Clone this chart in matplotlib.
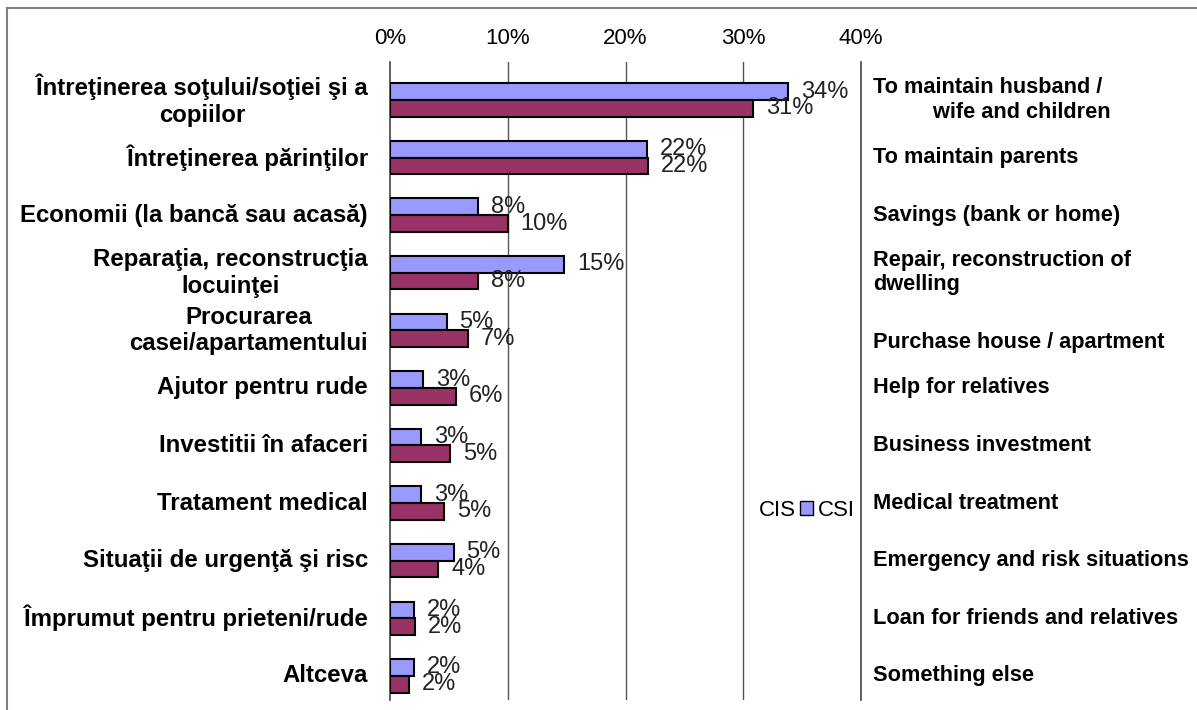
import matplotlib
matplotlib.use('Agg')
import matplotlib.pyplot as plt
from matplotlib.patches import Patch
from matplotlib.lines import Line2D
import matplotlib.transforms as mtransforms

plt.rcParams['font.family'] = ['Liberation Sans', 'DejaVu Sans']

# Data
labels_ro = ['Întreţinerea soţului/soţiei şi a\ncopiilor',
             'Întreţinerea părinţilor',
             'Economii (la bancă sau acasă)',
             'Reparaţia, reconstrucţia\nlocuinţei',
             'Procurarea\ncasei/apartamentului',
             'Ajutor pentru rude',
             'Investitii în afaceri',
             'Tratament medical',
             'Situaţii de urgenţă şi risc',
             'Împrumut pentru prieteni/rude',
             'Altceva']
labels_en = ['To maintain husband /\n          wife and children',
             'To maintain parents',
             'Savings (bank or home)',
             'Repair, reconstruction of\ndwelling',
             ' \nPurchase house / apartment',
             'Help for relatives',
             'Business investment',
             'Medical treatment',
             'Emergency and risk situations',
             'Loan for friends and relatives',
             'Something else']
csi = [33.8, 21.8, 7.5, 14.8, 4.8, 2.8, 2.6, 2.6, 5.4, 2.0, 2.0]
cis = [30.8, 21.9, 10.0, 7.5, 6.6, 5.6, 5.1, 4.6, 4.1, 2.1, 1.6]
blue = '#9999FF'
maroon = '#993366'

fig = plt.figure(figsize=(11.97, 7.10), dpi=100)
ax = fig.add_axes([390/1197, 1 - 700/710, 471/1197, 638/710])

y = list(range(len(labels_ro)))
h = 0.29
ax.barh([i - h/2 for i in y], csi, height=h, color=blue, edgecolor='black', linewidth=1.5, zorder=3)
ax.barh([i + h/2 for i in y], cis, height=h, color=maroon, edgecolor='black', linewidth=1.5, zorder=3)

ax.set_xlim(0, 40)
ax.set_ylim(10.42, -0.66)
ax.xaxis.tick_top()
ax.set_xticks([0, 10, 20, 30, 40])
ax.set_xticklabels(['0%', '10%', '20%', '30%', '40%'], fontsize=16)
ax.tick_params(axis='x', length=0, pad=9)
ax.set_yticks([])
for x in [10, 20, 30]:
    ax.axvline(x, color='#555555', linewidth=1, zorder=1)
for s in ['top', 'bottom']:
    ax.spines[s].set_visible(False)
for s in ['left', 'right']:
    ax.spines[s].set_color('#444444')
    ax.spines[s].set_linewidth(1.2)

# value labels
off = mtransforms.offset_copy(ax.transData, fig=fig, x=13, y=0, units='dots')
for i in y:
    ax.text(csi[i], i - h/2, f'{int(csi[i] + 0.5)}%', transform=off, ha='left', va='center',
            fontsize=17, color='#222222', zorder=4)
    ax.text(cis[i], i + h/2, f'{int(cis[i] + 0.5)}%', transform=off, ha='left', va='center',
            fontsize=17, color='#222222', zorder=4)

# category labels on both sides
trans = mtransforms.blended_transform_factory(ax.transAxes, ax.transData)
for i in y:
    ax.text(-22/471, i, labels_ro[i], transform=trans, ha='right', va='center',
            multialignment='center', fontsize=17.3, fontweight='bold', linespacing=1.2)
    ax.text(1 + 12/471, i, labels_en[i], transform=trans, ha='left', va='center',
            multialignment='left', fontsize=15.7, fontweight='bold', linespacing=1.2)

# legend
handles = [Patch(facecolor='none', edgecolor='none'),
           Patch(facecolor=blue, edgecolor='black')]
fig.legend(handles, ['CIS', 'CSI'], ncol=2, loc='center right',
           bbox_to_anchor=(866/1197, 1 - 510/710), frameon=False, fontsize=16,
           handlelength=0.6, handleheight=0.6, handletextpad=0.2, columnspacing=0.2,
           borderpad=0)

# outer frame (left and top edges)
fig.add_artist(Line2D([7/1197, 7/1197], [0, 1 - 8/710], color='#808080', linewidth=1.5))
fig.add_artist(Line2D([7/1197, 1], [1 - 8/710, 1 - 8/710], color='#808080', linewidth=1.5))

fig.savefig('out.png', dpi=100)
